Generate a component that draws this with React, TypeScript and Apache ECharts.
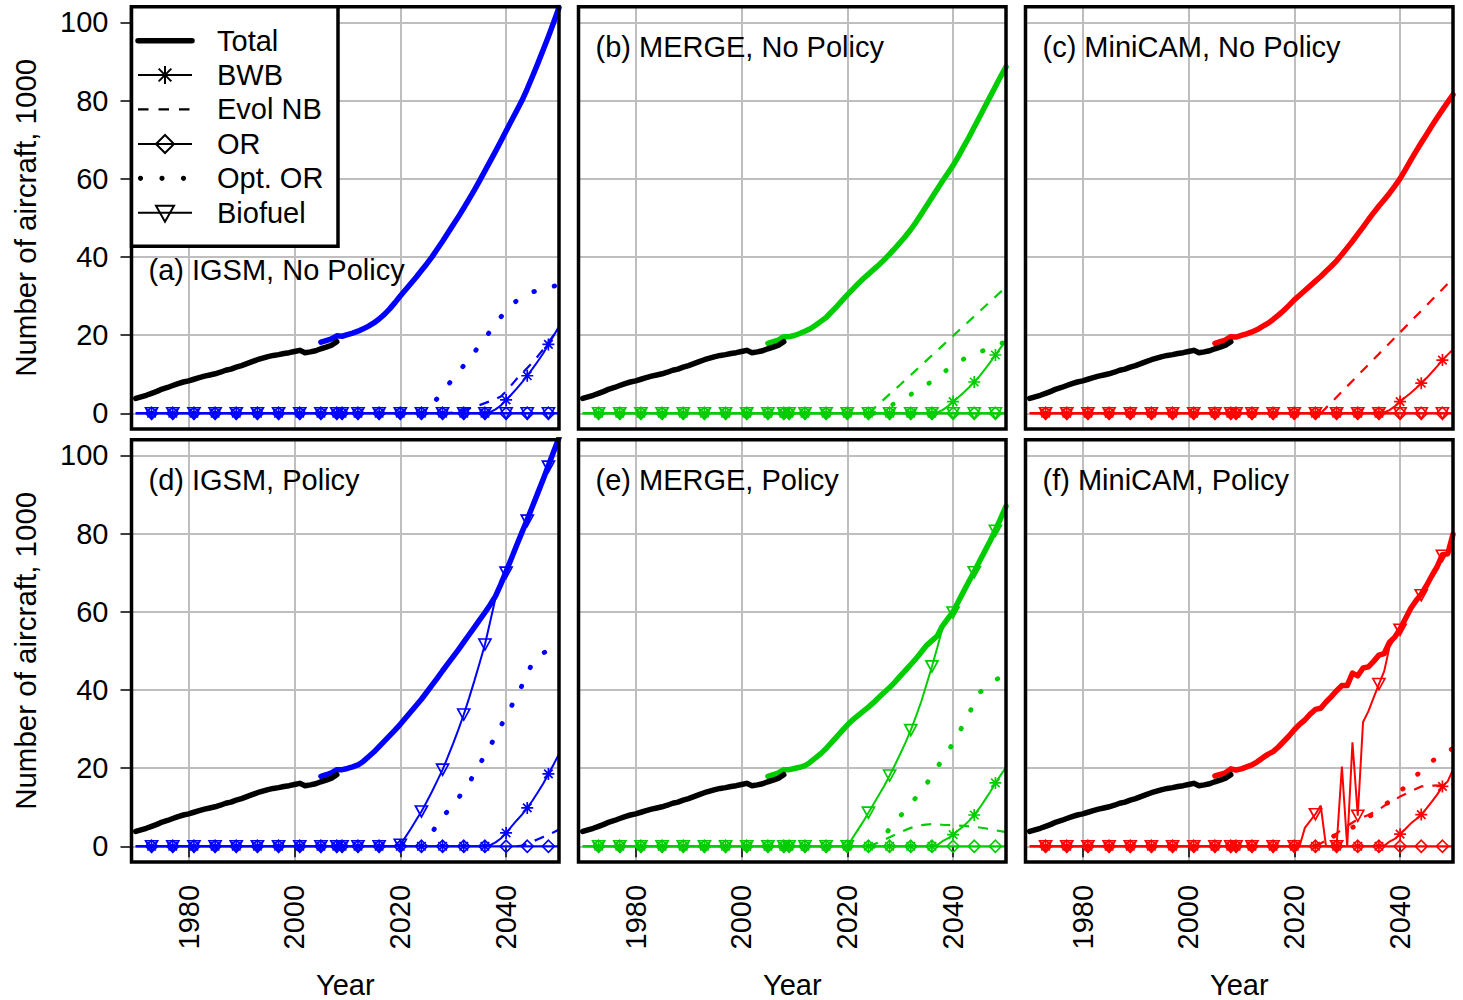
import React, { useEffect, useRef } from "react";
import * as echarts from "echarts";

const FONT = '"Liberation Sans", Arial, Helvetica, sans-serif';

// ---------- labels ----------
const PANEL_TITLES = [
  "(a) IGSM, No Policy",
  "(b) MERGE, No Policy",
  "(c) MiniCAM, No Policy",
  "(d) IGSM, Policy",
  "(e) MERGE, Policy",
  "(f) MiniCAM, Policy",
];
const PANEL_COLORS = ["#0000ff", "#00cd00", "#ff0000", "#0000ff", "#00cd00", "#ff0000"];
const LEGEND_LABELS = ["Total", "BWB", "Evol NB", "OR", "Opt. OR", "Biofuel"];
const X_TICKS = [1980, 2000, 2020, 2040];
const Y_TICKS = [0, 20, 40, 60, 80, 100];
const X_TITLE = "Year";
const Y_TITLE = "Number of aircraft, 1000";

// ---------- historical total (black) ----------
const HIST_YEARS = [
  1970, 1971, 1972, 1973, 1974, 1975, 1976, 1977, 1978, 1979,
  1980, 1981, 1982, 1983, 1984, 1985, 1986, 1987, 1988, 1989,
  1990, 1991, 1992, 1993, 1994, 1995, 1996, 1997, 1998, 1999,
  2000, 2001, 2002, 2003, 2004, 2005, 2006, 2007, 2008,
];
const HIST_TOTAL = [
  3.8, 4.2, 4.6, 5.1, 5.6, 6.2, 6.6, 7.1, 7.6, 8.0,
  8.3, 8.7, 9.1, 9.5, 9.8, 10.1, 10.5, 11.0, 11.3, 11.8,
  12.2, 12.7, 13.2, 13.7, 14.1, 14.5, 14.8, 15.0, 15.3, 15.5,
  15.8, 16.1, 15.5, 15.7, 16.0, 16.5, 16.9, 17.4, 18.3,
];

// ---------- projected totals ----------
const PROJ_YEARS = [
  2005, 2006, 2007, 2008, 2009, 2010, 2011, 2012, 2013, 2014,
  2015, 2016, 2017, 2018, 2019, 2020, 2021, 2022, 2023, 2024,
  2025, 2026, 2027, 2028, 2029, 2030, 2031, 2032, 2033, 2034,
  2035, 2036, 2037, 2038, 2039, 2040, 2041, 2042, 2043, 2044,
  2045, 2046, 2047, 2048, 2049, 2050,
];
const TOTAL_A = [
  18.2, 18.6, 19.0, 19.8, 19.7, 20.1, 20.5, 21.0, 21.6, 22.3,
  23.1, 24.1, 25.3, 26.7, 28.3, 30.0, 31.6, 33.2, 34.8, 36.5,
  38.2, 40.0, 42.0, 44.0, 46.1, 48.2, 50.3, 52.5, 54.8, 57.1,
  59.5, 62.0, 64.5, 67.0, 69.6, 72.2, 74.8, 77.4, 80.0, 83.0,
  86.2, 89.5, 92.9, 96.4, 100.0, 103.8,
];
const TOTAL_B = [
  17.9, 18.3, 18.7, 19.6, 19.6, 19.9, 20.4, 21.0, 21.6, 22.5,
  23.5, 24.5, 25.9, 27.3, 28.8, 30.3, 31.7, 33.1, 34.4, 35.6,
  36.8, 38.0, 39.3, 40.7, 42.2, 43.7, 45.3, 47.0, 48.9, 51.0,
  53.1, 55.2, 57.3, 59.4, 61.4, 63.4, 65.7, 68.2, 70.6, 73.2,
  75.8, 78.4, 81.0, 83.6, 86.2, 88.6,
];
const TOTAL_C = [
  17.9, 18.3, 18.7, 19.6, 19.5, 19.9, 20.3, 20.8, 21.4, 22.2,
  23.0, 24.0, 25.1, 26.3, 27.6, 29.0, 30.2, 31.4, 32.6, 33.8,
  35.0, 36.3, 37.6, 39.0, 40.6, 42.3, 44.0, 45.8, 47.6, 49.5,
  51.3, 53.0, 54.6, 56.3, 58.1, 60.0, 62.3, 64.7, 67.0, 69.2,
  71.3, 73.5, 75.6, 77.6, 79.6, 81.5,
];
const TOTAL_D = [
  17.9, 18.3, 18.8, 19.6, 19.6, 19.9, 20.3, 20.8, 21.7, 22.9,
  24.1, 25.5, 26.9, 28.3, 29.7, 31.2, 32.8, 34.4, 36.0, 37.6,
  39.4, 41.2, 43.0, 44.9, 46.7, 48.5, 50.3, 52.2, 54.1, 56.0,
  57.9, 59.8, 61.8, 64.0, 67.0, 70.3, 73.6, 77.0, 80.3, 83.6,
  87.0, 90.4, 93.8, 97.4, 101.0, 104.5,
];
const TOTAL_E = [
  17.9, 18.3, 18.8, 19.6, 19.6, 19.9, 20.2, 20.6, 21.5, 22.6,
  23.7, 25.0, 26.5, 28.0, 29.5, 31.0, 32.3, 33.4, 34.5, 35.6,
  36.8, 38.1, 39.4, 40.6, 42.0, 43.5, 45.0, 46.5, 48.0, 49.7,
  51.4, 52.6, 53.8, 56.4, 58.2, 60.0, 62.6, 65.2, 67.8, 70.3,
  72.9, 75.5, 78.1, 80.9, 83.9, 87.0,
];
const TOTAL_F = [
  18.0, 18.4, 18.8, 19.8, 19.5, 19.8, 20.3, 20.8, 21.6, 22.6,
  23.5, 24.2, 25.4, 26.8, 28.2, 29.8, 31.2, 32.3, 33.8, 35.0,
  35.3, 36.9, 38.3, 39.8, 41.1, 41.1, 44.3, 43.6, 45.6, 45.9,
  47.3, 48.9, 49.3, 52.2, 53.5, 55.6, 58.2, 60.8, 62.8, 64.5,
  66.7, 69.2, 71.5, 74.6, 74.8, 79.8,
];

// years carrying a plot symbol on the technology lines
const MARK_YEARS = [
  1973, 1977, 1981, 1985, 1989, 1993, 1997, 2001, 2005, 2008, 2009,
  2012, 2016, 2020, 2024, 2028, 2032, 2036, 2040, 2044, 2048,
];

type Pair = [number, number];

// ---------- (a) IGSM, No Policy ----------
const BWB_A: Pair[] = [[2036, 0], [2037, 0.3], [2038, 1.0], [2039, 2.0], [2040, 3.4], [2041, 4.8], [2042, 6.3], [2043, 7.9], [2044, 9.6], [2045, 11.4], [2046, 13.3], [2047, 15.3], [2048, 17.6], [2049, 19.9], [2050, 22.2]];
const EVOL_A: Pair[] = [[2028, 0], [2030, 0.2], [2032, 0.8], [2034, 1.6], [2036, 2.6], [2038, 3.6], [2039, 4.3], [2040, 5.6], [2041, 7.2], [2042, 8.8], [2043, 10.2], [2044, 11.6], [2045, 13.0], [2046, 14.6], [2047, 16.3], [2048, 18.1], [2049, 20.0], [2050, 22.0]];
const OR_A: Pair[] = [];
const OPT_A: Pair[] = [[2024, 0], [2025, 0.5], [2026, 2.2], [2027, 3.8], [2028, 5.5], [2029, 7.2], [2030, 8.9], [2031, 10.6], [2032, 12.2], [2033, 13.9], [2034, 15.6], [2035, 17.4], [2036, 19.2], [2037, 21.0], [2038, 22.8], [2039, 24.6], [2040, 26.2], [2041, 27.6], [2042, 28.8], [2043, 29.8], [2044, 30.5], [2045, 31.0], [2046, 31.5], [2047, 31.9], [2048, 32.2], [2049, 32.5], [2050, 32.8]];
const BIO_A: Pair[] = [];

// ---------- (b) MERGE, No Policy ----------
const BWB_B: Pair[] = [[2036, 0], [2037, 0.2], [2038, 0.8], [2039, 1.8], [2040, 3.0], [2041, 4.1], [2042, 5.3], [2043, 6.6], [2044, 8.0], [2045, 9.5], [2046, 11.2], [2047, 13.0], [2048, 14.9], [2049, 16.8], [2050, 18.6]];
const EVOL_B: Pair[] = [[2024, 0], [2026, 2.4], [2028, 4.9], [2030, 7.3], [2032, 9.8], [2034, 12.3], [2036, 14.8], [2038, 17.3], [2040, 19.8], [2042, 22.3], [2044, 24.8], [2046, 27.3], [2048, 29.8], [2050, 32.3]];
const OR_B: Pair[] = [];
const OPT_B: Pair[] = [[2025, 0], [2026, 0.4], [2028, 1.8], [2030, 3.3], [2032, 4.8], [2034, 6.4], [2036, 8.2], [2038, 10.3], [2040, 12.2], [2042, 13.9], [2044, 15.0], [2046, 16.2], [2048, 17.2], [2050, 18.4]];
const BIO_B: Pair[] = [];

// ---------- (c) MiniCAM, No Policy ----------
const BWB_C: Pair[] = [[2036, 0], [2037, 0.2], [2038, 0.8], [2039, 1.8], [2040, 3.0], [2041, 4.1], [2042, 5.2], [2043, 6.4], [2044, 7.7], [2045, 9.0], [2046, 10.5], [2047, 12.0], [2048, 13.6], [2049, 15.0], [2050, 16.3]];
const EVOL_C: Pair[] = [[2025, 0], [2030, 6.9], [2035, 13.8], [2040, 20.7], [2045, 27.6], [2050, 34.5]];
const OR_C: Pair[] = [];
const OPT_C: Pair[] = [];
const BIO_C: Pair[] = [];

// ---------- (d) IGSM, Policy ----------
const BWB_D: Pair[] = [[2036, 0], [2037, 0.3], [2038, 1.0], [2039, 2.0], [2040, 3.4], [2041, 5.0], [2042, 6.6], [2043, 8.1], [2044, 9.8], [2045, 11.7], [2046, 13.8], [2047, 16.0], [2048, 18.5], [2049, 21.0], [2050, 23.6]];
const EVOL_D: Pair[] = [[2042, 0], [2043, 0.2], [2044, 0.6], [2045, 1.2], [2046, 1.8], [2047, 2.4], [2048, 3.0], [2049, 3.6], [2050, 4.3]];
const OR_D: Pair[] = [];
const OPT_D: Pair[] = [[2024, 0], [2025, 1.4], [2026, 3.5], [2027, 5.6], [2028, 7.6], [2029, 9.0], [2030, 10.7], [2031, 12.4], [2032, 14.2], [2033, 16.2], [2034, 18.5], [2035, 20.9], [2036, 23.4], [2037, 25.7], [2038, 28.1], [2039, 30.7], [2040, 33.3], [2041, 35.8], [2042, 38.4], [2043, 41.1], [2044, 44.2], [2045, 46.9], [2046, 48.3], [2047, 49.4], [2048, 50.2], [2049, 50.9], [2050, 51.5]];
const BIO_D: Pair[] = [[2019, 0], [2020, 0.4], [2021, 2.4], [2022, 4.5], [2023, 6.7], [2024, 8.9], [2025, 11.4], [2026, 14.0], [2027, 16.8], [2028, 19.6], [2029, 22.9], [2030, 26.3], [2031, 29.9], [2032, 33.7], [2033, 37.9], [2034, 42.3], [2035, 46.9], [2036, 51.6], [2037, 57.5], [2038, 63.5], [2039, 68.0], [2040, 70.0], [2041, 73.3], [2042, 76.7], [2043, 80.0], [2044, 83.3], [2045, 86.7], [2046, 90.1], [2047, 93.5], [2048, 97.1], [2049, 100.7], [2050, 104.2]];

// ---------- (e) MERGE, Policy ----------
const BWB_E: Pair[] = [[2036, 0], [2037, 0.3], [2038, 1.3], [2039, 2.0], [2040, 3.0], [2041, 4.1], [2042, 5.2], [2043, 6.5], [2044, 8.0], [2045, 9.8], [2046, 11.8], [2047, 13.9], [2048, 16.2], [2049, 18.2], [2050, 20.2]];
const EVOL_E: Pair[] = [[2024, 0], [2026, 1.0], [2028, 2.3], [2030, 3.6], [2032, 4.7], [2034, 5.4], [2036, 5.7], [2038, 5.5], [2040, 5.4], [2042, 5.2], [2044, 5.0], [2046, 4.6], [2048, 4.1], [2050, 3.6]];
const OR_E: Pair[] = [];
const OPT_E: Pair[] = [[2025, 0], [2026, 1.0], [2027, 2.6], [2028, 4.5], [2029, 6.1], [2030, 7.7], [2031, 9.3], [2032, 10.8], [2033, 12.5], [2034, 14.2], [2035, 16.0], [2036, 18.1], [2037, 20.2], [2038, 22.2], [2039, 24.2], [2040, 26.4], [2041, 28.8], [2042, 31.3], [2043, 33.9], [2044, 36.7], [2045, 39.3], [2046, 40.5], [2047, 41.5], [2048, 42.5], [2049, 43.3], [2050, 44.0]];
const BIO_E: Pair[] = [[2020, 0], [2021, 2.1], [2022, 4.2], [2023, 6.3], [2024, 8.6], [2025, 10.9], [2026, 13.2], [2027, 15.5], [2028, 18.1], [2029, 20.8], [2030, 23.6], [2031, 26.5], [2032, 29.7], [2033, 33.3], [2034, 37.1], [2035, 41.5], [2036, 46.0], [2037, 50.8], [2038, 55.8], [2039, 58.0], [2040, 59.8], [2041, 62.4], [2042, 65.0], [2043, 67.6], [2044, 70.1], [2045, 72.7], [2046, 75.3], [2047, 77.9], [2048, 80.7], [2049, 83.7], [2050, 86.8]];

// ---------- (f) MiniCAM, Policy ----------
const BWB_F: Pair[] = [[2036, 0], [2037, 0.1], [2038, 1.2], [2039, 1.9], [2040, 3.1], [2041, 4.4], [2042, 5.8], [2043, 6.9], [2044, 8.1], [2045, 9.7], [2046, 11.4], [2047, 13.2], [2048, 15.3], [2049, 16.6], [2050, 19.6]];
const EVOL_F: Pair[] = [[2024, 0], [2026, 1.5], [2028, 3.3], [2030, 5.2], [2032, 6.9], [2034, 8.0], [2036, 9.4], [2038, 11.3], [2040, 12.7], [2042, 14.0], [2044, 15.3], [2046, 15.5], [2048, 15.6], [2050, 15.9]];
const OR_F: Pair[] = [];
const OPT_F: Pair[] = [[2024, 0], [2025, 0.8], [2026, 1.5], [2027, 2.2], [2028, 3.0], [2029, 3.6], [2030, 4.2], [2031, 4.8], [2032, 5.7], [2033, 6.5], [2034, 7.4], [2035, 8.4], [2036, 9.4], [2037, 10.4], [2038, 11.5], [2039, 12.7], [2040, 14.0], [2041, 15.3], [2042, 16.6], [2043, 18.0], [2044, 19.3], [2045, 20.5], [2046, 21.7], [2047, 22.7], [2048, 23.6], [2049, 24.3], [2050, 25.0]];
const BIO_F: Pair[] = [[2020, 0], [2021, 0], [2022, 4.7], [2023, 6.5], [2024, 8.2], [2025, 10.4], [2026, 0], [2027, 0], [2028, 0], [2029, 20.4], [2030, 0], [2031, 26.6], [2032, 7.8], [2033, 31.8], [2034, 34.5], [2035, 38.0], [2036, 41.5], [2037, 44.8], [2038, 51.0], [2039, 53.2], [2040, 55.4], [2041, 58.0], [2042, 60.5], [2043, 62.5], [2044, 64.2], [2045, 66.5], [2046, 69.0], [2047, 71.3], [2048, 74.3], [2049, 74.6], [2050, 79.5]];

const PANELS = [
  { total: TOTAL_A, bwb: BWB_A, evol: EVOL_A, or: OR_A, opt: OPT_A, bio: BIO_A },
  { total: TOTAL_B, bwb: BWB_B, evol: EVOL_B, or: OR_B, opt: OPT_B, bio: BIO_B },
  { total: TOTAL_C, bwb: BWB_C, evol: EVOL_C, or: OR_C, opt: OPT_C, bio: BIO_C },
  { total: TOTAL_D, bwb: BWB_D, evol: EVOL_D, or: OR_D, opt: OPT_D, bio: BIO_D },
  { total: TOTAL_E, bwb: BWB_E, evol: EVOL_E, or: OR_E, opt: OPT_E, bio: BIO_E },
  { total: TOTAL_F, bwb: BWB_F, evol: EVOL_F, or: OR_F, opt: OPT_F, bio: BIO_F },
];

// ---------- layout ----------
const COL_LEFT = [131.5, 578.5, 1025.5];
const ROW_TOP = [6.7, 439.7];
const GW = 427.5;
const GH = 422.2;
const X_MIN = 1969.2;
const X_MAX = 2050;
const Y_MIN = -4;
const Y_MAX = 104;
const FS = 29;

const SYM_AST = "path://M0,-10L0,10M-10,0L10,0M-7.07,-7.07L7.07,7.07M-7.07,7.07L7.07,-7.07";
const SYM_DIA = "path://M0,-10L10,0L0,10L-10,0Z";
const SYM_TRI = "path://M-10,-7L10,-7L0,10Z";

const DASH = [10, 9];
const DOTS = [0.5, 20.5];

function markerSeries(i: number, pairs: Pair[], symbol: string, size: number[], color: string) {
  const start = pairs.length ? pairs[0][0] : Infinity;
  const base: Pair[] = [1970, ...MARK_YEARS, 2050].filter((y) => y < start).map((y) => [y, 0] as Pair);
  const all = base.concat(pairs);
  return {
    type: "line",
    xAxisIndex: i,
    yAxisIndex: i,
    silent: true,
    z: 3,
    symbol,
    symbolSize: size,
    showSymbol: true,
    data: all.map(([x, y]) => ({ value: [x, y], symbol: MARK_YEARS.includes(x) ? symbol : "none" })),
    lineStyle: { color, width: 2 },
    itemStyle: { color: "rgba(0,0,0,0)", borderColor: color, borderWidth: 1.7 },
  };
}

function plainSeries(i: number, pairs: Pair[], color: string, width: number, type: any, z: number, cap = "butt") {
  return {
    type: "line",
    xAxisIndex: i,
    yAxisIndex: i,
    silent: true,
    z,
    showSymbol: false,
    symbol: "none",
    data: pairs,
    lineStyle: { color, width, type, cap, join: "round" },
  };
}

function buildOption() {
  const grid: any[] = [];
  const xAxis: any[] = [];
  const yAxis: any[] = [];
  const series: any[] = [];
  const graphic: any[] = [];

  PANELS.forEach((p, i) => {
    const r = Math.floor(i / 3);
    const c = i % 3;
    const color = PANEL_COLORS[i];
    const left = COL_LEFT[c];
    const top = ROW_TOP[r];
    grid.push({ left, top, width: GW, height: GH, containLabel: false, show: false });
    xAxis.push({
      gridIndex: i,
      type: "value",
      min: X_MIN,
      max: X_MAX,
      axisLine: { show: false },
      axisTick: { show: r === 1, length: 11, lineStyle: { color: "#000", width: 1.5 }, customValues: X_TICKS },
      axisLabel: {
        show: r === 1,
        rotate: 90,
        margin: 23,
        fontSize: FS,
        color: "#000",
        fontFamily: FONT,
        customValues: X_TICKS,
        formatter: (v: number) => String(v),
      },
      splitLine: { show: true, lineStyle: { color: "#bebebe", width: 2 } },
    });
    yAxis.push({
      gridIndex: i,
      type: "value",
      min: Y_MIN,
      max: Y_MAX,
      axisLine: { show: false },
      axisTick: { show: c === 0, length: 11, lineStyle: { color: "#000", width: 1.5 }, customValues: Y_TICKS },
      axisLabel: {
        show: c === 0,
        margin: 23,
        fontSize: FS,
        color: "#000",
        fontFamily: FONT,
        customValues: Y_TICKS,
        formatter: (v: number) => String(v),
      },
      splitLine: { show: true, lineStyle: { color: "#bebebe", width: 2 } },
    });

    // projected total
    series.push(plainSeries(i, PROJ_YEARS.map((y, k) => [y, p.total[k]] as Pair), color, 5.5, "solid", 2, "round"));
    // historical total
    series.push(plainSeries(i, HIST_YEARS.map((y, k) => [y, HIST_TOTAL[k]] as Pair), "#000", 5.5, "solid", 5, "round"));
    // technologies
    series.push(markerSeries(i, p.or, SYM_DIA, [12, 12], color));
    series.push(markerSeries(i, p.bio, SYM_TRI, [12, 11], color));
    series.push(markerSeries(i, p.bwb, SYM_AST, [12, 12], color));
    if (p.evol.length) series.push(plainSeries(i, p.evol, color, 2.2, DASH, 3));
    if (p.opt.length) series.push(plainSeries(i, p.opt, color, 4.8, DOTS, 3, "round"));

    // box
    graphic.push({
      type: "rect",
      z: 30,
      silent: true,
      shape: { x: left, y: top, width: GW, height: GH },
      style: { fill: "transparent", stroke: "#000", lineWidth: 3.5 },
    });
    // panel title
    graphic.push({
      type: "text",
      z: 32,
      silent: true,
      x: left + 17,
      y: top + (i === 0 ? 263 : 40),
      style: { text: PANEL_TITLES[i], fontSize: FS, fontFamily: FONT, fill: "#000", align: "left", verticalAlign: "middle" },
    });
    if (r === 1) {
      graphic.push({
        type: "text",
        z: 32,
        silent: true,
        x: left + GW / 2,
        y: 985,
        style: { text: X_TITLE, fontSize: FS, fontFamily: FONT, fill: "#000", align: "center", verticalAlign: "middle" },
      });
    }
    if (c === 0) {
      graphic.push({
        type: "text",
        z: 32,
        silent: true,
        x: 25,
        y: top + GH / 2,
        rotation: Math.PI / 2,
        style: { text: Y_TITLE, fontSize: 29.5, fontFamily: FONT, fill: "#000", align: "center", verticalAlign: "middle" },
      });
    }
  });

  // legend (panel a)
  const LX0 = 138;
  const LX1 = 192;
  const LXM = 165;
  const LTX = 217;
  const LY = [40.7, 75, 109.3, 144, 178.3, 212.7];
  const lz = 40;
  graphic.push({
    type: "rect",
    z: lz,
    silent: true,
    shape: { x: COL_LEFT[0], y: ROW_TOP[0], width: 206.5, height: 239.5 },
    style: { fill: "#fff", stroke: "#000", lineWidth: 3.5 },
  });
  const ln = (y: number, w: number, extra: any = {}) => ({
    type: "line",
    z: lz + 1,
    silent: true,
    shape: { x1: LX0, y1: y, x2: LX1, y2: y },
    style: { stroke: "#000", lineWidth: w, ...extra },
  });
  // Total
  graphic.push(ln(LY[0], 5.5, { lineCap: "round" }));
  // BWB
  graphic.push(ln(LY[1], 2));
  const ar = 9;
  const d = ar * 0.707;
  [
    [0, -ar, 0, ar],
    [-ar, 0, ar, 0],
    [-d, -d, d, d],
    [-d, d, d, -d],
  ].forEach(([a, b, e, f]) =>
    graphic.push({
      type: "line",
      z: lz + 2,
      silent: true,
      shape: { x1: LXM + a, y1: LY[1] + b, x2: LXM + e, y2: LY[1] + f },
      style: { stroke: "#000", lineWidth: 2 },
    })
  );
  // Evol NB
  graphic.push(ln(LY[2], 2.2, { lineDash: [10.5, 10] }));
  // OR
  graphic.push(ln(LY[3], 2));
  graphic.push({
    type: "polygon",
    z: lz + 2,
    silent: true,
    shape: { points: [[LXM, LY[3] - 9], [LXM + 9, LY[3]], [LXM, LY[3] + 9], [LXM - 9, LY[3]]] },
    style: { fill: "transparent", stroke: "#000", lineWidth: 2 },
  });
  // Opt. OR
  [140.5, 162, 183.5].forEach((cx) =>
    graphic.push({ type: "circle", z: lz + 2, silent: true, shape: { cx, cy: LY[4], r: 2.6 }, style: { fill: "#000" } })
  );
  // Biofuel
  graphic.push(ln(LY[5], 2));
  graphic.push({
    type: "polygon",
    z: lz + 2,
    silent: true,
    shape: { points: [[LXM - 9, LY[5] - 7], [LXM + 9, LY[5] - 7], [LXM, LY[5] + 9]] },
    style: { fill: "transparent", stroke: "#000", lineWidth: 2 },
  });
  LEGEND_LABELS.forEach((t, k) =>
    graphic.push({
      type: "text",
      z: lz + 3,
      silent: true,
      x: LTX,
      y: LY[k],
      style: { text: t, fontSize: FS, fontFamily: FONT, fill: "#000", align: "left", verticalAlign: "middle" },
    })
  );

  return {
    animation: false,
    backgroundColor: "#ffffff",
    grid,
    xAxis,
    yAxis,
    series,
    graphic: { elements: graphic },
  };
}

export default function App() {
  const ref = useRef<HTMLDivElement>(null);
  useEffect(() => {
    if (!ref.current) return;
    const chart = echarts.init(ref.current, undefined, { renderer: "svg" });
    chart.setOption(buildOption() as any);
    return () => chart.dispose();
  }, []);
  return (
    <div
      ref={ref}
      style={{ position: "fixed", left: 0, top: 0, width: 1463, height: 1000, background: "#fff" }}
    />
  );
}
